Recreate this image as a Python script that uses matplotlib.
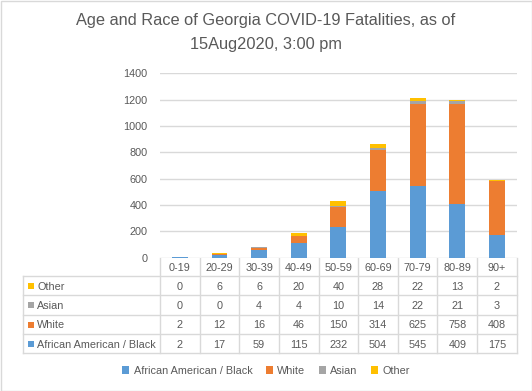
import numpy as np
import matplotlib.pyplot as plt
from matplotlib.patches import Rectangle

plt.rcParams['font.family'] = ['Liberation Sans', 'DejaVu Sans']

ages = ['0-19', '20-29', '30-39', '40-49', '50-59', '60-69', '70-79', '80-89', '90+']
black = [2, 17, 59, 115, 232, 504, 545, 409, 175]
white = [2, 12, 16, 46, 150, 314, 625, 758, 408]
asian = [0, 0, 4, 4, 10, 14, 22, 21, 3]
other = [0, 6, 6, 20, 40, 28, 22, 13, 2]

series = [('African American / Black', black, '#5B9BD5'),
          ('White', white, '#ED7D31'),
          ('Asian', asian, '#A5A5A5'),
          ('Other', other, '#FFC000')]

W, H = 532, 391
txt = '#595959'
grid = '#D9D9D9'
fs = 7.8

fig = plt.figure(figsize=(W / 100, H / 100), dpi=100)

def fx(p):
    return p / W

def fy(p):
    return 1 - p / H

# plot area
x_left, x_right = 160, 516.7
y_top, y_bot = 73.3, 257.7
ax = fig.add_axes([fx(x_left), fy(y_bot), (x_right - x_left) / W, (y_bot - y_top) / H])
x = np.arange(len(ages))
bottom = np.zeros(len(ages))
handles = []
for name, vals, col in series:
    b = ax.bar(x, vals, 0.4, bottom=bottom, color=col, label=name, zorder=3)
    handles.append(b)
    bottom += np.array(vals)

ax.set_xlim(-0.5, len(ages) - 0.5)
ax.set_ylim(0, 1400)
ax.set_yticks(range(0, 1401, 200))
ax.set_xticks([])
ax.yaxis.grid(True, color=grid, linewidth=1, zorder=0)
ax.tick_params(axis='y', length=0, pad=9, labelsize=fs, labelcolor=txt)
for s in ax.spines.values():
    s.set_visible(False)

# data table drawn on an overlay in pixel units
ov = fig.add_axes([0, 0, 1, 1], zorder=-1)
ov.set_xlim(0, W)
ov.set_ylim(H, 0)
ov.axis('off')

edges = x_left + (x_right - x_left) * np.arange(len(ages) + 1) / len(ages)
tab_left = 23
hdr_bot = 276
row_h = 19.3
rows = series[::-1]
row_edges = hdr_bot + row_h * np.arange(len(rows) + 1)

for e in edges:
    ov.plot([e, e], [y_bot, row_edges[-1]], color=grid, lw=1)
ov.plot([tab_left, tab_left], [hdr_bot, row_edges[-1]], color=grid, lw=1)
for r in row_edges:
    ov.plot([tab_left, x_right], [r, r], color=grid, lw=1)

for i, a in enumerate(ages):
    cx = (edges[i] + edges[i + 1]) / 2
    ov.text(cx, (y_bot + hdr_bot) / 2 + 1, a, ha='center', va='center', fontsize=fs, color=txt)

for j, (name, vals, col) in enumerate(rows):
    cy = (row_edges[j] + row_edges[j + 1]) / 2 + 1
    ov.add_patch(Rectangle((28, cy - 3.5), 6, 6, color=col, lw=0))
    ov.text(37, cy, name, ha='left', va='center', fontsize=fs, color=txt)
    for i, v in enumerate(vals):
        cx = (edges[i] + edges[i + 1]) / 2
        ov.text(cx, cy, str(v), ha='center', va='center', fontsize=fs, color=txt)

# chart border
ov.add_patch(Rectangle((0.5, 0.5), W - 1, H - 1, fill=False, edgecolor=grid, lw=1))

fig.text(0.5, fy(21), 'Age and Race of Georgia COVID-19 Fatalities, as of',
         ha='center', va='center', fontsize=11.8, color=txt)
fig.text(0.5, fy(45), '15Aug2020, 3:00 pm',
         ha='center', va='center', fontsize=11.8, color=txt)

fig.legend(handles=handles, loc='center', bbox_to_anchor=(0.5, fy(371)), ncol=4,
           frameon=False, fontsize=fs, labelcolor=txt, handlelength=0.7,
           handleheight=0.7, handletextpad=0.4, columnspacing=1.2)

fig.savefig('out.png', dpi=100)
